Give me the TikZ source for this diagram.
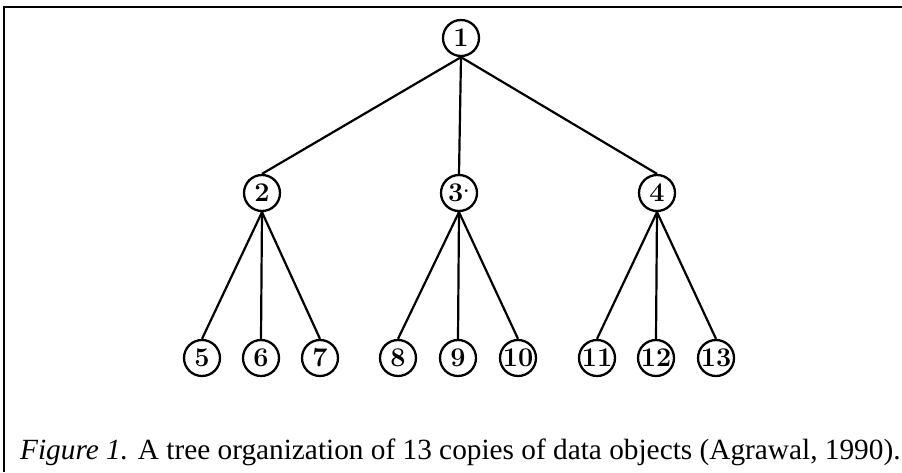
\documentclass[tikz,border=0pt]{standalone}
\usepackage{fontspec}
\newfontfamily\capfont{Liberation Serif}
\begin{document}
\begin{tikzpicture}[x=1pt, y=-1pt,
	obj/.style={draw, circle, line width=2.3pt, minimum size=36pt, inner sep=0pt, font=\fontsize{27}{27}\selectfont\bfseries},
	link/.style={line width=2.2pt}]
	\useasboundingbox (0,0) rectangle (902,472);
	\draw[line width=2pt] (4,472) -- (4,7) -- (902,7);
	% root and second level
	\node[obj] (o1) at (461,38) {1};
	\node[obj] (o2) at (262,193) {2};
	\node[obj] (o3) at (459,193) {3\textsuperscript{.}};
	\node[obj] (o4) at (657,193) {4};
	\draw[link] (o1.south) -- (o2.north);
	\draw[link] (o1.south) -- (o3.north);
	\draw[link] (o1.south) -- (o4.north);
	% copies at the bottom
	\foreach \n/\x/\p in {5/202/2, 6/261/2, 7/320/2, 8/398/3, 9/458/3, 10/518/3, 11/597/4, 12/656/4, 13/716/4} {
		\node[obj] (o\n) at (\x,358) {\n};
		\draw[link] (o\p.south) -- (o\n.north);
	}
	\node[anchor=west, inner sep=0pt, font=\capfont\fontsize{29.3}{34}\selectfont] (cap) at (20,452) {\textit{Figure 1.} A tree organization of 13 copies of data objects (Agrawal, 1990).};
\end{tikzpicture}
\end{document}
